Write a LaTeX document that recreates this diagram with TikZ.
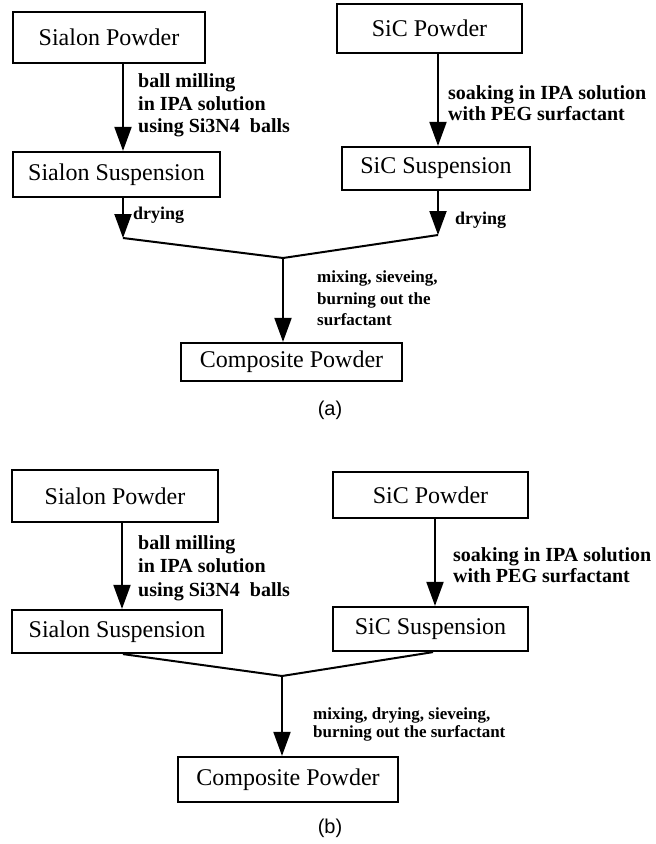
\documentclass[tikz,border=0pt]{standalone}
\usepackage{fontspec}
\setmainfont{Liberation Serif}
\setsansfont{Liberation Sans}
\usetikzlibrary{arrows.meta}
\begin{document}
\begin{tikzpicture}[x=1pt,y=-1pt,
  box/.style={draw, line width=2.2pt, inner sep=0pt, font=\fontsize{24}{28}\selectfont},
  lbl/.style={font=\bfseries\fontsize{20}{22.5}\selectfont, align=left, anchor=west, inner sep=0pt},
  lbls/.style={font=\bfseries\fontsize{20}{20.5}\selectfont, align=left, anchor=west, inner sep=0pt},
  lblm/.style={font=\bfseries\fontsize{17}{21.5}\selectfont, align=left, anchor=west, inner sep=0pt},
  lbld/.style={font=\bfseries\fontsize{18}{21}\selectfont, anchor=west, inner sep=0pt},
  captext/.style={font=\sffamily\fontsize{20}{24}\selectfont, inner sep=0pt},
  arr/.style={line width=2pt, -{Triangle[length=24pt,width=17pt]}},
  ln/.style={line width=2pt, line join=miter}]
\useasboundingbox (0,0) rectangle (656,844);
\fill[white] (0,0) rectangle (656,844);

% ---------- (a) ----------
\node[box, minimum width=192pt, minimum height=51pt] (SPa) at (109,37.5) {Sialon Powder};
\node[box, minimum width=185pt, minimum height=49pt] (SiCPa) at (429.5,28.5) {SiC Powder};
\node[box, minimum width=207pt, minimum height=45pt] (SSa) at (116.5,174.5) {Sialon Suspension};
\node[box, minimum width=188pt, minimum height=43pt] (SiCSa) at (436,168.5) {SiC Suspension};
\node[box, minimum width=221pt, minimum height=38pt] (Compa) at (291.5,362) {Composite Powder};

\coordinate (xa1) at (123,0);
\coordinate (xa2) at (438,0);
\coordinate (la) at (123,238);
\coordinate (ra) at (438,235);
\coordinate (ja) at (283,258);

\draw[arr] (SPa.south -| xa1) -- (SSa.north -| xa1);
\draw[arr] (SiCPa.south -| xa2) -- (SiCSa.north -| xa2);
\draw[arr] (SSa.south -| la) -- (la);
\draw[arr] (SiCSa.south -| ra) -- (ra);
\draw[ln] (la) -- (ja) -- (ra);
\draw[arr] (ja) -- (Compa.north -| ja);

\node[lbl] (Ma) at (138,105.5) {ball milling\\in IPA solution\\using Si3N4\ \ balls};
\node[lbls] (Sa) at (448,103) {soaking in IPA solution\\with PEG surfactant};
\node[lbld] (Da1) at (133,215) {drying};
\node[lbld] (Da2) at (455,220) {drying};
\node[lblm] (Xa) at (317,298.5) {mixing, sieveing,\\burning out the\\surfactant};
\node[captext] (capa) at (330,410) {(a)};

% ---------- (b) ----------
\node[box, minimum width=206pt, minimum height=52pt] (SPb) at (115,496) {Sialon Powder};
\node[box, minimum width=195pt, minimum height=46pt] (SiCPb) at (430.5,495) {SiC Powder};
\node[box, minimum width=210pt, minimum height=43pt] (SSb) at (117,631.5) {Sialon Suspension};
\node[box, minimum width=195pt, minimum height=44pt] (SiCSb) at (430.5,629) {SiC Suspension};
\node[box, minimum width=220pt, minimum height=45pt] (Compb) at (288,779.5) {Composite Powder};

\coordinate (xb1) at (122,0);
\coordinate (xb2) at (435,0);
\coordinate (lb) at (123,0);
\coordinate (rb) at (433,0);
\coordinate (jb) at (282,676);

\draw[arr] (SPb.south -| xb1) -- (SSb.north -| xb1);
\draw[arr] (SiCPb.south -| xb2) -- (SiCSb.north -| xb2);
\draw[ln] (SSb.south -| lb) -- (jb) -- (SiCSb.south -| rb);
\draw[arr] (jb) -- (Compb.north -| jb);

\node[lbl, font=\bfseries\fontsize{20}{23.5}\selectfont] (Mb) at (138,568) {ball milling\\in IPA solution\\using Si3N4\ \ balls};
\node[lbls] (Sb) at (453,565) {soaking in IPA solution\\with PEG surfactant};
\node[lblm, font=\bfseries\fontsize{17}{18}\selectfont] (Xb) at (313,724) {mixing, drying, sieveing,\\burning out the surfactant};
\node[captext] (capb) at (330,828) {(b)};
\end{tikzpicture}
\end{document}
